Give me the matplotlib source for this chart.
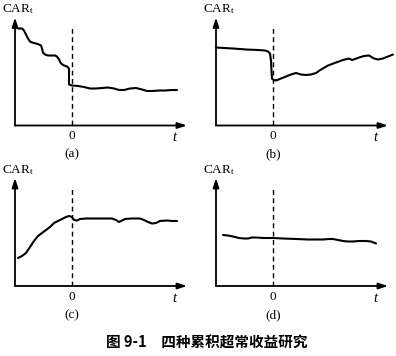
import matplotlib.pyplot as plt

plt.rcParams['mathtext.fontset'] = 'custom'
plt.rcParams['mathtext.rm'] = 'Liberation Serif'
plt.rcParams['mathtext.it'] = 'Liberation Serif:italic'

# event time t=0 is the dashed line (pixel units)
t_a = [-54, -50, -48, -46, -44, -42, -40, -36, -33, -31, -30, -29, -27, -24, -20, -17,
       -15, -13, -11, -8, -5, -3, -3, 0, 6, 12, 18, 24, 30, 36, 42, 47, 52, 58, 64,
       70, 75, 80, 87, 93, 100, 105]
car_a = [97, 97, 95, 91, 87, 84, 83, 82, 81, 80, 77, 73, 71, 70, 70, 70, 69, 66, 62,
         60, 59, 57, 41, 40, 39.5, 38.5, 37, 37, 37.5, 38, 37, 35.5, 35.5, 37, 37.5,
         36, 34.5, 34.5, 35, 35, 35.5, 35.5]

t_b = [-57, -40, -27, -15, -8, -5, -3, -2, -1.5, -1, 0, 3, 8, 13, 18, 23, 28, 33,
       38, 43, 48, 55, 63, 70, 76, 79, 82, 86, 91, 96, 101, 105, 110, 115, 120]
car_b = [78, 77, 76, 75.5, 75, 74, 72, 65, 55, 47, 46, 45, 47, 49, 51, 52.5, 51,
         50.5, 51, 52.5, 56, 60, 63, 65.5, 67, 65.5, 66.5, 68, 69.5, 70, 67, 66,
         67, 69, 71]

t_c = [-54, -50, -46, -42, -38, -34, -30, -26, -22, -18, -14, -10, -6, -3, 0, 2, 5,
       8, 14, 21, 30, 40, 44, 47, 50, 53, 60, 68, 72, 76, 80, 84, 88, 95, 100, 105]
car_c = [28, 30, 33, 39, 45, 50, 53, 56, 59, 63, 65, 67, 69, 70, 69, 66, 65.5, 67,
         67.5, 67.5, 67.5, 67.5, 66, 64, 65.5, 67, 67.5, 67.5, 66, 64, 62.5, 63,
         65, 65.5, 65, 65]

t_d = [-50, -45, -40, -34, -29, -25, -21, -17, -10, 0, 10, 23, 35, 50, 56, 60, 65,
       70, 75, 80, 86, 93, 98, 103]
car_d = [51, 50.5, 49.5, 48, 47.5, 47.5, 48.5, 48.5, 48, 48, 47.5, 47, 46.5, 46.5,
         47, 47, 46, 45, 44.5, 44.5, 45, 45, 44.5, 42.5]

panels = [
    ("(a)", t_a, car_a, 15, 125.5),
    ("(b)", t_b, car_b, 216, 125.5),
    ("(c)", t_c, car_c, 15, 286),
    ("(d)", t_d, car_d, 216, 286),
]

W, H = 396, 356
fig = plt.figure(figsize=(W / 100, H / 100), dpi=100)

for label, t, car, x0, y0 in panels:
    # axes area in pixels: origin (x0, y0), width 172, height 108
    ax = fig.add_axes([x0 / W, (H - y0) / H, 172 / W, 108 / H])
    ax.set_xlim(-57, 115)
    ax.set_ylim(0, 108)
    ax.axis('off')

    ax.plot(t, car, color='black', lw=1.5, clip_on=False,
            solid_capstyle='round', solid_joinstyle='round')
    ax.plot([0, 0], [0, 100], color='black', lw=1.0, ls=(0, (3.5, 2.5)))

    arrow = dict(arrowstyle='-|>,head_length=0.55,head_width=0.18', color='black',
                 lw=1.3, shrinkA=0, shrinkB=0)
    ax.annotate('', xy=(115, 0), xytext=(-57, 0), arrowprops=arrow,
                annotation_clip=False)
    ax.annotate('', xy=(-57, 108), xytext=(-57, 0), arrowprops=arrow,
                annotation_clip=False)

    ax.text(-70, 116, r'$\mathrm{CAR}_\mathrm{t}$', fontsize=9.5, ha='left',
            va='center', clip_on=False)
    ax.text(0, -11, '0', fontsize=9.5, family='Liberation Serif', ha='center',
            va='center')
    ax.text(102, -12, 't', fontsize=10.5, family='Liberation Serif', style='italic',
            ha='center', va='center')
    ax.text(0, -29, label, fontsize=9.5, family='Liberation Serif', ha='center',
            va='center')

fig.text(207 / W, 1 - 343 / H, '图 9-1　四种累积超常收益研究', fontsize=10.5,
         family=['Noto Sans CJK SC', 'DejaVu Sans'], weight='bold',
         ha='center', va='center')

fig.savefig('out.png', dpi=100)
